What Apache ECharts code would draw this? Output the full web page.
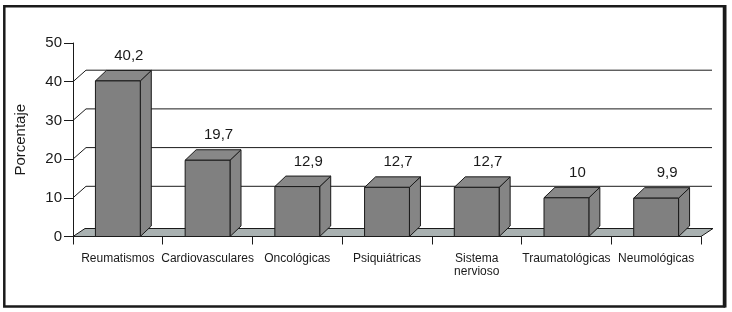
<!DOCTYPE html>
<html>
<head>
<meta charset="utf-8">
<script src="https://cdn.jsdelivr.net/npm/echarts@6/dist/echarts.min.js"></script>
<style>
  html, body { margin: 0; padding: 0; background: #fff; }
  #main { width: 732px; height: 312px; }
</style>
</head>
<body>
<div id="main"></div>
<script>
// datos
let categorias = ['Reumatismos', 'Cardiovasculares', 'Oncológicas', 'Psiquiátricas', 'Sistema\nnervioso', 'Traumatológicas', 'Neumológicas'];
let porcentajes = [40.2, 19.7, 12.9, 12.7, 12.7, 10, 9.9];
let etiquetas = ['40,2', '19,7', '12,9', '12,7', '12,7', '10', '9,9'];
let lineasFondo = [10, 20, 30, 40];

let fuente = 'Liberation Sans, Arial, sans-serif';
let tinta = '#1a1a1a';

// profundidad del efecto 3D
let muroDx = 13, muroDy = -11.5;
let sueloDx = 12, sueloDy = -8;
let barraDx = 11, barraDy = -10.5;

let myChart = echarts.init(document.getElementById('main'));

function renderMuro(params, api) {
    let p = api.coord([0, api.value(1)]);
    let w = api.size([1, 0])[0];
    let left = p[0] - w / 2;
    let right = api.coord([categorias.length - 1, api.value(1)])[0] + w / 2;
    return {
        type: 'polyline',
        shape: {points: [[left, p[1]], [left + muroDx, p[1] + muroDy], [right + 11, p[1] + muroDy]]},
        style: {stroke: tinta, lineWidth: 1, fill: null}
    };
}

function renderSuelo(params, api) {
    let p = api.coord([0, 0]);
    let w = api.size([1, 0])[0];
    let left = p[0] - w / 2;
    let right = api.coord([categorias.length - 1, 0])[0] + w / 2;
    let y = p[1];
    return {
        type: 'polygon',
        shape: {points: [[left, y], [left + sueloDx, y + sueloDy], [right + sueloDx, y + sueloDy], [right, y]]},
        style: {fill: '#a9b1b1', stroke: tinta, lineWidth: 1}
    };
}

function renderBarra(params, api) {
    let i = api.value(0);
    let top = api.coord([i, api.value(1)]);
    let base = api.coord([i, 0]);
    let w = api.size([1, 0])[0] * 0.5;
    let x1 = top[0] - w / 2;
    let x2 = x1 + w;
    let yt = top[1], yb = base[1];
    return {
        type: 'group',
        children: [
            {
                type: 'polygon',
                shape: {points: [[x2, yb], [x2 + barraDx, yb + barraDy], [x2 + barraDx, yt + barraDy], [x2, yt]]},
                style: {fill: '#858585', stroke: tinta, lineWidth: 1}
            },
            {
                type: 'polygon',
                shape: {points: [[x1, yt], [x1 + barraDx, yt + barraDy], [x2 + barraDx, yt + barraDy], [x2, yt]]},
                style: {fill: '#888888', stroke: tinta, lineWidth: 1}
            },
            {
                type: 'rect',
                shape: {x: x1, y: yt, width: w, height: yb - yt},
                style: {fill: '#808080', stroke: tinta, lineWidth: 1}
            },
            {
                type: 'text',
                style: {
                    x: (x1 + x2) / 2 + barraDx,
                    y: yt - 25,
                    text: etiquetas[params.dataIndex],
                    align: 'center',
                    verticalAlign: 'middle',
                    font: '15px ' + fuente,
                    fill: tinta
                }
            }
        ]
    };
}

myChart.setOption({
    animation: false,
    grid: {left: 73, right: 31, top: 43, bottom: 75.5},
    graphic: [
        {
            type: 'rect',
            shape: {x: 4.3, y: 6.3, width: 719.7, height: 300.2},
            style: {fill: null, stroke: tinta, lineWidth: 2.5}
        },
        {
            type: 'line',
            shape: {x1: 725, y1: 5, x2: 725, y2: 307.5},
            style: {stroke: tinta, lineWidth: 3}
        }
    ],
    xAxis: {
        type: 'category',
        data: categorias,
        axisLine: {lineStyle: {color: tinta, width: 1}},
        axisTick: {show: true, length: 8, interval: 0, lineStyle: {color: tinta}},
        axisLabel: {interval: 0, margin: 16, fontSize: 12, fontFamily: fuente, color: tinta, lineHeight: 13}
    },
    yAxis: {
        type: 'value',
        min: 0,
        max: 50,
        interval: 10,
        name: 'Porcentaje',
        nameLocation: 'middle',
        nameGap: 45,
        nameTextStyle: {fontSize: 15, fontFamily: fuente, color: tinta},
        axisLine: {show: true, lineStyle: {color: tinta, width: 1}},
        axisTick: {show: true, length: 9, lineStyle: {color: tinta}},
        axisLabel: {margin: 11, fontSize: 15, fontFamily: fuente, color: tinta},
        splitLine: {show: false}
    },
    series: [
        {
            type: 'custom',
            name: 'muro',
            renderItem: renderMuro,
            data: lineasFondo.map(v => [0, v]),
            z: 1,
            silent: true
        },
        {
            type: 'custom',
            name: 'suelo',
            renderItem: renderSuelo,
            data: [[0, 0]],
            z: 2,
            silent: true
        },
        {
            type: 'custom',
            name: 'Porcentaje',
            renderItem: renderBarra,
            data: porcentajes.map((v, i) => [i, v]),
            z: 3
        }
    ]
});
</script>
</body>
</html>
